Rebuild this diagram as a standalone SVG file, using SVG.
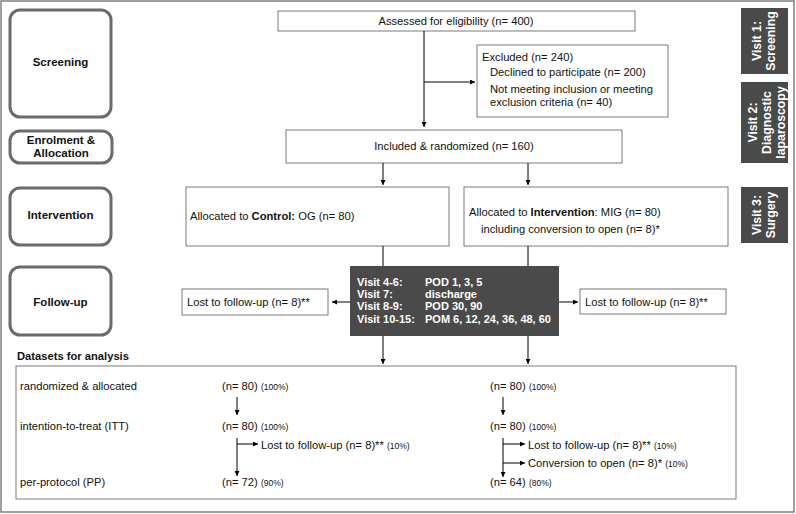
<svg xmlns="http://www.w3.org/2000/svg" width="796" height="514" viewBox="0 0 796 514">
<defs>
<marker id="ah" viewBox="0 0 6 6" refX="6" refY="3" markerWidth="5" markerHeight="5" markerUnits="userSpaceOnUse" orient="auto">
<path d="M0,0 L6,3 L0,6 Z" fill="#000"/>
</marker>
<style>
text{font-family:"Liberation Sans",Arial,sans-serif;font-size:11.2px;fill:#111}
.b{font-weight:bold}
.p{font-weight:bold;font-size:11.5px}
.w{fill:#fff;font-weight:bold;font-size:11px}
.v{fill:#fff;font-weight:bold;font-size:12.3px}
.s{font-size:8.5px}
.phase{fill:#fff;stroke:#6b6b6b;stroke-width:3}
.box{fill:#fff;stroke:#7a7a7a;stroke-width:1}
.dark{fill:#4a4a4a;stroke:none}
.ln{fill:none;stroke:#000;stroke-width:1}
.arr{fill:none;stroke:#000;stroke-width:1;marker-end:url(#ah)}
</style>
</defs>
<rect x="1" y="1" width="793" height="511" fill="#fff" stroke="#808080" stroke-width="1.5"/>

<g id="phase-screening"><rect class="phase" x="10" y="10" width="101" height="107" rx="10"/><text class="p" x="60.5" y="66" text-anchor="middle">Screening</text></g>
<g id="phase-enrolment"><rect class="phase" x="10" y="131" width="102" height="32" rx="10"/><text class="p" x="61" y="144" text-anchor="middle">Enrolment &amp;</text><text class="p" x="61" y="157" text-anchor="middle">Allocation</text></g>
<g id="phase-intervention"><rect class="phase" x="10" y="188" width="101" height="57" rx="10"/><text class="p" x="60.5" y="219" text-anchor="middle">Intervention</text></g>
<g id="phase-followup"><rect class="phase" x="10" y="267" width="101" height="68" rx="10"/><text class="p" x="60.5" y="306" text-anchor="middle">Follow-up</text></g>

<g id="visit1"><rect class="dark" x="741" y="8" width="47" height="66"/><text class="v" transform="translate(764.5,41) rotate(-90)" text-anchor="middle"><tspan x="0" y="-3.5">Visit 1:</tspan><tspan x="0" y="10.5">Screening</tspan></text></g>
<g id="visit2"><rect class="dark" x="741" y="82" width="47" height="81"/><text class="v" transform="translate(764.5,122.5) rotate(-90)" text-anchor="middle"><tspan x="0" y="-8">Visit 2:</tspan><tspan x="0" y="6">Diagnostic</tspan><tspan x="0" y="20">laparoscopy</tspan></text></g>
<g id="visit3"><rect class="dark" x="741" y="187" width="47" height="56"/><text class="v" transform="translate(764.5,215) rotate(-90)" text-anchor="middle"><tspan x="0" y="-3.5">Visit 3:</tspan><tspan x="0" y="10.5">Surgery</tspan></text></g>

<g id="assessed"><rect class="box" x="278" y="11" width="357" height="20"/><text x="456" y="25" text-anchor="middle">Assessed for eligibility (n= 400)</text></g>
<g id="excluded"><rect class="box" x="477" y="45" width="191" height="72"/><text x="482" y="61">Excluded (n= 240)</text><text x="490" y="76">Declined to participate (n= 200)</text><text x="490" y="93">Not meeting inclusion or meeting</text><text x="490" y="106">exclusion criteria  (n= 40)</text></g>
<g id="included"><rect class="box" x="286" y="130" width="336" height="33"/><text x="454" y="150" text-anchor="middle">Included &amp; randomized (n= 160)</text></g>
<g id="control"><rect class="box" x="186" y="187" width="263" height="59"/><text x="190" y="220">Allocated to <tspan class="b">Control:</tspan> OG (n= 80)</text></g>
<g id="intervention"><rect class="box" x="464" y="187" width="264" height="59"/><text x="469" y="216">Allocated to <tspan class="b">Intervention</tspan>: MIG (n= 80)</text><text x="481" y="233">including conversion to open (n= 8)*</text></g>
<g id="followup-visits"><rect class="dark" x="350" y="266" width="209" height="70"/>
<text class="w" x="357" y="286">Visit 4-6:</text><text class="w" x="425" y="286">POD 1, 3, 5</text>
<text class="w" x="357" y="298">Visit 7:</text><text class="w" x="425" y="298">discharge</text>
<text class="w" x="357" y="310">Visit 8-9:</text><text class="w" x="425" y="310">POD 30, 90</text>
<text class="w" x="357" y="323">Visit 10-15:</text><text class="w" x="425" y="323">POM 6, 12, 24, 36, 48, 60</text></g>
<g id="lost-left"><rect class="box" x="182" y="289" width="146" height="26"/><text x="187" y="306">Lost to follow-up (n= 8)**</text></g>
<g id="lost-right"><rect class="box" x="580" y="289" width="146" height="25"/><text x="585" y="306">Lost to follow-up (n= 8)**</text></g>

<text class="b" x="17" y="360">Datasets for analysis</text>
<g id="datasets"><rect class="box" x="16" y="366" width="720" height="133"/>
<text x="20" y="390">randomized &amp; allocated</text>
<text x="20" y="430">intention-to-treat (ITT)</text>
<text x="20" y="486">per-protocol (PP)</text>
<text x="222" y="390">(n= 80) <tspan class="s">(100%)</tspan></text>
<text x="222" y="430">(n= 80) <tspan class="s">(100%)</tspan></text>
<text x="261" y="449">Lost to follow-up (n= 8)** <tspan class="s">(10%)</tspan></text>
<text x="222" y="486">(n= 72) <tspan class="s">(90%)</tspan></text>
<text x="490" y="390">(n= 80) <tspan class="s">(100%)</tspan></text>
<text x="490" y="430">(n= 80) <tspan class="s">(100%)</tspan></text>
<text x="528" y="449">Lost to follow-up (n= 8)** <tspan class="s">(10%)</tspan></text>
<text x="528" y="467">Conversion to open (n= 8)* <tspan class="s">(10%)</tspan></text>
<text x="490" y="486">(n= 64) <tspan class="s">(80%)</tspan></text>
</g>

<g id="connectors">
<path class="arr" d="M424,31 V127"/>
<path class="arr" d="M424,82 H475"/>
<path class="arr" d="M383,163 V185"/>
<path class="arr" d="M528,163 V185"/>
<path class="ln" d="M383,246 V266"/>
<path class="ln" d="M528,246 V266"/>
<path class="arr" d="M350,302 H332"/>
<path class="arr" d="M559,302 H578"/>
<path class="arr" d="M383,336 V364"/>
<path class="arr" d="M528,336 V364"/>
<path class="arr" d="M237,397 V415"/>
<path class="arr" d="M237,438 V476"/>
<path class="arr" d="M237,444 H258"/>
<path class="arr" d="M503,397 V415"/>
<path class="arr" d="M503,438 V477"/>
<path class="arr" d="M503,444 H525"/>
<path class="arr" d="M503,463 H525"/>
</g>
</svg>
